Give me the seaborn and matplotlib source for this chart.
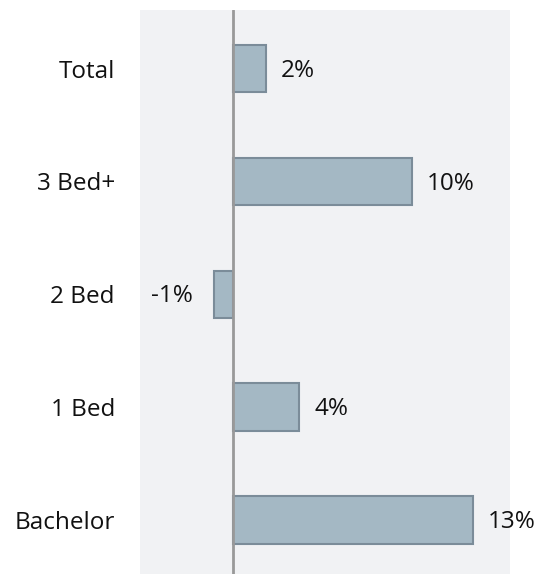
import matplotlib
matplotlib.use("Agg")
import matplotlib.pyplot as plt
import numpy as np
import pandas as pd
import seaborn as sns

# values
categories = ["Total", "3 Bed+", "2 Bed", "1 Bed", "Bachelor"]
change_pct = [1.8, 9.7, -1.0, 3.6, 13.0]
labels = ["2%", "10%", "-1%", "4%", "13%"]

df = pd.DataFrame({"unit": categories, "change": change_pct})

sns.set_style("white")
plt.rcParams['font.family'] = ['Open Sans', 'DejaVu Sans']

fig = plt.figure(figsize=(5.36, 5.74), dpi=100)
ax = fig.add_axes([140 / 536, 0, 370 / 536, 564 / 574])
ax.set_facecolor("#f1f2f4")

sns.barplot(data=df, x="change", y="unit", order=categories, orient="h",
            color="#a4b8c4", saturation=1, width=0.42,
            edgecolor="#7b8c99", linewidth=1.5, ax=ax)

ax.axvline(0, color="#999999", linewidth=2, zorder=3)

fs = 17.5
for p, lab in zip(ax.patches, labels):
    end = p.get_x() + p.get_width()
    yc = p.get_y() + p.get_height() / 2
    if end >= 0:
        ax.annotate(lab, (end, yc), xytext=(11, -1.5), textcoords="offset points",
                    ha="left", va="center", fontsize=fs, color="#111111")
    else:
        ax.annotate(lab, (end, yc), xytext=(-15, -1.5), textcoords="offset points",
                    ha="right", va="center", fontsize=fs, color="#111111")

ax.set_xlim(-5, 15)
ax.set_ylim(4.48, -0.52)
ax.set_xlabel("")
ax.set_ylabel("")
ax.set_xticks([])
ax.tick_params(axis="y", length=0, pad=18, labelsize=fs, labelcolor="#111111")
for s in ax.spines.values():
    s.set_visible(False)

fig.savefig("out.png", dpi=100)
